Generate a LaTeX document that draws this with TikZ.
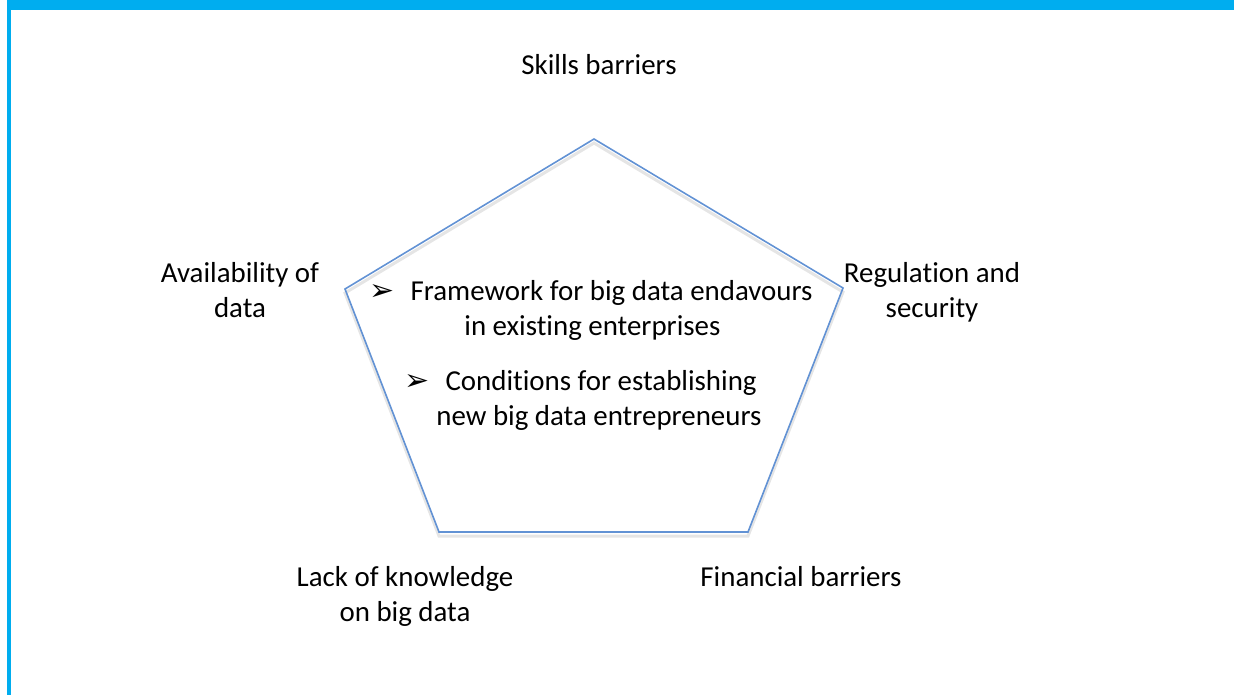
\documentclass[tikz,border=0pt]{standalone}
\usepackage{fontspec}
\setmainfont{Carlito}[Ligatures=NoCommon]
\newfontfamily\symfont{DejaVu Sans}
\newcommand{\bul}{{\symfont\fontsize{15}{15}\selectfont ➢}\hspace{8pt}}
\definecolor{framebar}{RGB}{0,173,239}
\definecolor{pentaline}{RGB}{98,146,212}
\begin{document}
\begin{tikzpicture}[x=0.5pt,y=-0.5pt,
	barrier/.style={align=center,inner sep=0pt,font=\fontsize{14.45}{17.5}\selectfont},
	item/.style={barrier,align=left,anchor=west}]
\useasboundingbox (0,0) rectangle (1234,695);
% frame
\fill[framebar] (7,0) rectangle (1234,10);
\fill[framebar] (7,0) rectangle (11,695);
% pentagon corners
\coordinate (top) at (594,139);
\coordinate (right) at (843,288);
\coordinate (botright) at (748,532);
\coordinate (botleft) at (439,532);
\coordinate (left) at (345,289);
\draw[black!20,line width=1.5pt,opacity=0.5] ([yshift=-2]top) -- ([yshift=-2]right) -- ([yshift=-2]botright) -- ([yshift=-2]botleft) -- ([yshift=-2]left) -- cycle;
\draw[pentaline,line width=0.8pt,line join=miter] (top) -- (right) -- (botright) -- (botleft) -- (left) -- cycle;
% barriers round the pentagon
\node[barrier,anchor=base] (skills) at (599,75) {Skills barriers};
\node[barrier] (avail) at (240,290) {Availability of\\data};
\node[barrier] (regul) at (932,292) {Regulation and\\security};
\node[barrier] (lack) at (405,596) {Lack of knowledge\\on big data};
\node[barrier,anchor=base] (finance) at (801,586) {Financial barriers};
% inside
\node[item] (frame) at (369,310) {\bul Framework for big data endavours\\\hspace*{47.5pt}in existing enterprises};
\node[item] (cond) at (404,400) {\bul Conditions for establishing\\\hspace*{16pt}new big data entrepreneurs};
\end{tikzpicture}
\end{document}
